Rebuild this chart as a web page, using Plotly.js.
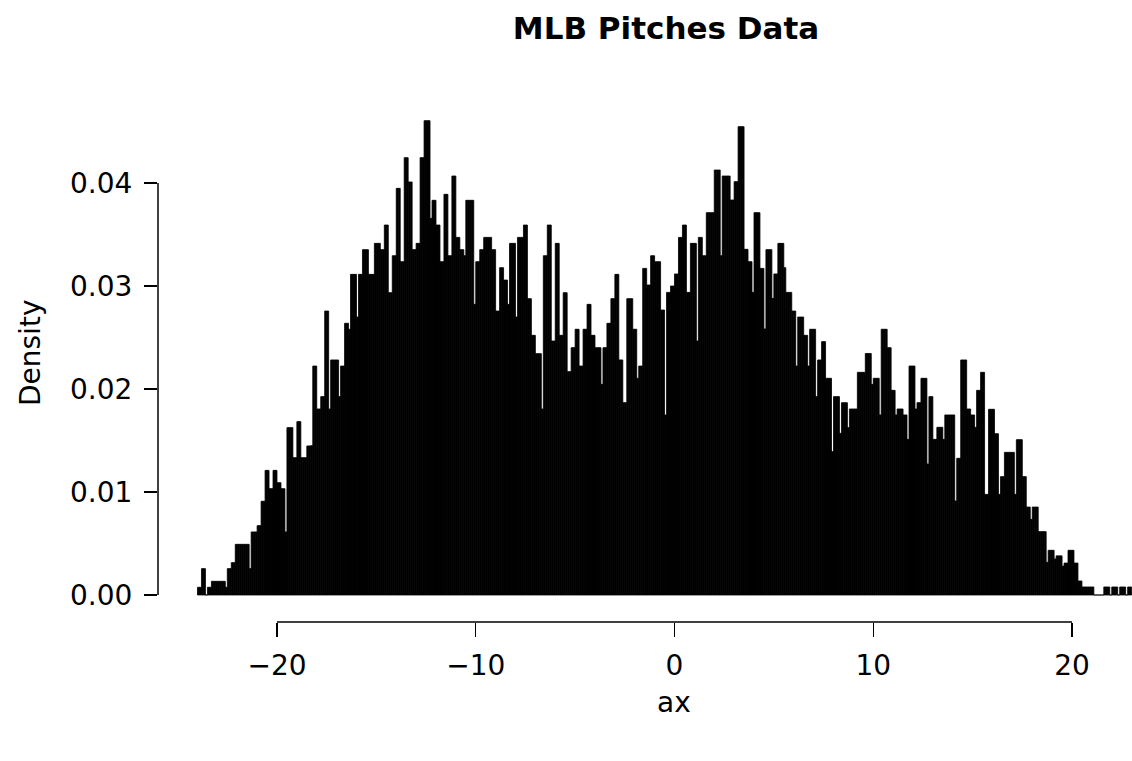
<!DOCTYPE html>
<html>
<head>
<meta charset="utf-8">
<script src="https://cdn.plot.ly/plotly-3.0.1.min.js"></script>
<style>html,body{margin:0;padding:0;background:#fff;}#chart{width:1132px;height:761px;}</style>
</head>
<body>
<div id="chart"></div>
<script>
// Histogram of pitch horizontal acceleration "ax" (density scale), bins of width 0.1 from -24 to 23
const BIN_START = -24.0;
const BIN_WIDTH = 0.1;
const density = [
0.00075,0.00075,0.00256,0.00256,0,0.00075,0.00075,0.00133,0.00133,0.00133,
0.00133,0.00133,0.00133,0.00133,0.00075,0.00256,0.00256,0.00314,0.00314,0.00492,
0.00492,0.00492,0.00492,0.00492,0.00492,0.00492,0.00256,0.00612,0.00612,0.00612,
0.00673,0.00673,0.0091,0.0091,0.0121,0.0121,0.01032,0.01032,0.0121,0.0121,
0.0109,0.0109,0.01032,0.01032,0.00612,0.01625,0.01625,0.01625,0.01333,0.01333,
0.01683,0.01683,0.01333,0.01333,0.01333,0.01447,0.01447,0.0145,0.02223,0.02223,
0.01806,0.01806,0.01926,0.01926,0.02757,0.02757,0.01806,0.02282,0.02282,0.02282,
0.02282,0.01926,0.02223,0.02223,0.02638,0.02638,0.0258,0.03113,0.03113,0.03113,
0.02699,0.03113,0.03113,0.03353,0.03353,0.03353,0.03113,0.03113,0.03113,0.03414,
0.03414,0.03414,0.03353,0.03353,0.03592,0.03592,0.02935,0.02935,0.03294,0.03294,
0.03948,0.03948,0.03236,0.03236,0.04246,0.04246,0.0401,0.0401,0.03353,0.03353,
0.03414,0.03414,0.04246,0.04246,0.04605,0.04605,0.04605,0.03657,0.03832,0.03832,
0.03592,0.03592,0.03236,0.03236,0.0389,0.0389,0.03294,0.03294,0.04068,0.04068,
0.03472,0.03472,0.03353,0.03353,0.03294,0.03832,0.03832,0.03832,0.03832,0.02822,
0.03236,0.03236,0.03353,0.03353,0.03472,0.03472,0.03472,0.03472,0.03353,0.03353,
0.02757,0.02757,0.03178,0.03178,0.03058,0.03058,0.02822,0.03414,0.03414,0.03414,
0.02699,0.03472,0.03472,0.03472,0.03592,0.03592,0.02877,0.02877,0.02521,0.02521,
0.02343,0.02343,0.02343,0.01806,0.03294,0.03294,0.03592,0.03592,0.02466,0.02466,
0.03414,0.03414,0.02521,0.02521,0.02935,0.02935,0.02168,0.02168,0.02401,0.02401,
0.0258,0.0258,0.02223,0.02223,0.0258,0.0258,0.02822,0.02822,0.02521,0.02521,
0.02401,0.02401,0.02401,0.02045,0.02401,0.02401,0.02638,0.02638,0.02877,0.02877,
0.03113,0.03113,0.02282,0.02282,0.01867,0.01867,0.02877,0.02877,0.02877,0.0258,
0.0258,0.02104,0.02223,0.02223,0.03171,0.03171,0.0301,0.0301,0.03294,0.03294,
0.03236,0.03236,0.03236,0.02767,0.02767,0.01748,0.02938,0.02938,0.03,0.03,
0.03117,0.03117,0.03472,0.03472,0.03592,0.03592,0.02938,0.02938,0.03414,0.03414,
0.03414,0.02466,0.03472,0.03472,0.03294,0.03294,0.03712,0.03712,0.03712,0.03712,
0.04126,0.04126,0.04126,0.03294,0.04068,0.04068,0.04068,0.04068,0.03835,0.03835,
0.04013,0.04013,0.04547,0.04547,0.04547,0.03356,0.03356,0.03236,0.03236,0.02938,
0.03712,0.03712,0.03712,0.03171,0.03171,0.02583,0.03353,0.03353,0.03353,0.0288,
0.03117,0.03117,0.03414,0.03414,0.03414,0.03178,0.02938,0.02938,0.02938,0.02757,
0.02757,0.02223,0.02699,0.02699,0.02699,0.02521,0.02521,0.02223,0.0258,0.0258,
0.0258,0.01926,0.02282,0.02282,0.0246,0.0246,0.02104,0.02104,0.02104,0.01392,
0.01926,0.01926,0.01926,0.0157,0.01867,0.01867,0.01867,0.01625,0.01806,0.01806,
0.01806,0.01806,0.02162,0.02162,0.02162,0.02162,0.02345,0.02345,0.02345,0.02045,
0.02104,0.02104,0.02104,0.01748,0.0258,0.0258,0.0258,0.02401,0.02401,0.01987,
0.01987,0.01748,0.01806,0.01806,0.01806,0.01748,0.01748,0.01511,0.02223,0.02223,
0.02223,0.01806,0.01867,0.01867,0.02104,0.02104,0.02104,0.01272,0.01926,0.01926,
0.01511,0.01511,0.01628,0.01628,0.01628,0.01511,0.01748,0.01748,0.01748,0.01748,
0.01748,0.00913,0.01327,0.01327,0.02282,0.02282,0.02282,0.01806,0.01806,0.01748,
0.01748,0.01628,0.01987,0.01987,0.02162,0.02162,0.00977,0.00977,0.01803,0.01803,
0.01803,0.01566,0.01566,0.00977,0.01149,0.01149,0.01385,0.01385,0.01385,0.01385,
0.01385,0.00977,0.01508,0.01508,0.01508,0.01149,0.01149,0.00854,0.00854,0.00735,
0.00854,0.00854,0.00854,0.00615,0.00615,0.00615,0.00615,0.00317,0.00434,0.00434,
0.00434,0.0035,0.0038,0.0038,0.0038,0.0028,0.0031,0.0031,0.00434,0.00434,
0.00434,0.0031,0.0031,0.00136,0.00136,0.00078,0.00078,0.00078,0.00078,0.00078,
0.00078,0,0,0,0,0,0.00078,0.00078,0.00078,0,
0.00078,0.00078,0.00078,0,0.00078,0.00078,0.00078,0,0.00078,0.00078
];
const xTicks = [-20, -10, 0, 10, 20];
const yTicks = [0, 0.01, 0.02, 0.03, 0.04];
const titleText = "MLB Pitches Data";
const xLabel = "ax";
const yLabel = "Density";

const FONT = "DejaVu Sans, Liberation Sans, Arial, sans-serif";

const trace = {
  type: "bar",
  y: density,
  x0: BIN_START + BIN_WIDTH / 2,
  dx: BIN_WIDTH,
  marker: { color: "#000000", line: { color: "#000000", width: 0.8 } },
  hoverinfo: "x+y"
};

const layout = {
  width: 1132,
  height: 761,
  margin: { l: 158, r: 0, t: 84, b: 139, pad: 0 },
  paper_bgcolor: "#ffffff",
  plot_bgcolor: "#ffffff",
  bargap: 0,
  showlegend: false,
  font: { family: FONT, size: 28, color: "#000000" },
  title: {
    text: titleText,
    font: { family: FONT, size: 31, color: "#000000", weight: "bold" },
    xref: "paper", x: (666 - 158) / 974, xanchor: "center",
    yref: "container", y: 1 - 28 / 761, yanchor: "middle"
  },
  xaxis: {
    range: [-25.987, 23.019],
    tickmode: "array",
    tickvals: xTicks,
    ticks: "outside",
    ticklen: 14,
    tickwidth: 1.5,
    tickcolor: "#000000",
    showline: false,
    showgrid: false,
    zeroline: false,
    tickfont: { family: FONT, size: 28, color: "#000000" },
    ticklabelstandoff: 4
  },
  yaxis: {
    range: [-0.0026214, 0.049612],
    tickmode: "array",
    tickvals: yTicks,
    tickformat: ".2f",
    ticks: "outside",
    ticklen: 13,
    tickwidth: 1.5,
    tickcolor: "#000000",
    showline: false,
    showgrid: false,
    zeroline: false,
    tickfont: { family: FONT, size: 28, color: "#000000" },
    ticklabelstandoff: 6
  },
  shapes: [
    { type: "line", xref: "x", yref: "paper", x0: xTicks[0], x1: xTicks[xTicks.length - 1], y0: 0, y1: 0,
      line: { color: "#000000", width: 1.5 } },
    { type: "line", xref: "paper", yref: "y", x0: 0, x1: 0, y0: yTicks[0], y1: yTicks[yTicks.length - 1],
      line: { color: "#000000", width: 1.5 } }
  ],
  annotations: [
    { text: xLabel, xref: "paper", yref: "paper", x: (674 - 158) / 974, y: -(702 - 622) / 538,
      xanchor: "center", yanchor: "middle", showarrow: false,
      font: { family: FONT, size: 28, color: "#000000" } },
    { text: yLabel, xref: "paper", yref: "paper", x: -(158 - 30) / 974, y: (622 - 353) / 538,
      xanchor: "center", yanchor: "middle", showarrow: false, textangle: -90,
      font: { family: FONT, size: 28, color: "#000000" } }
  ]
};

Plotly.newPlot("chart", [trace], layout, { displayModeBar: false, staticPlot: true });
</script>
</body>
</html>
